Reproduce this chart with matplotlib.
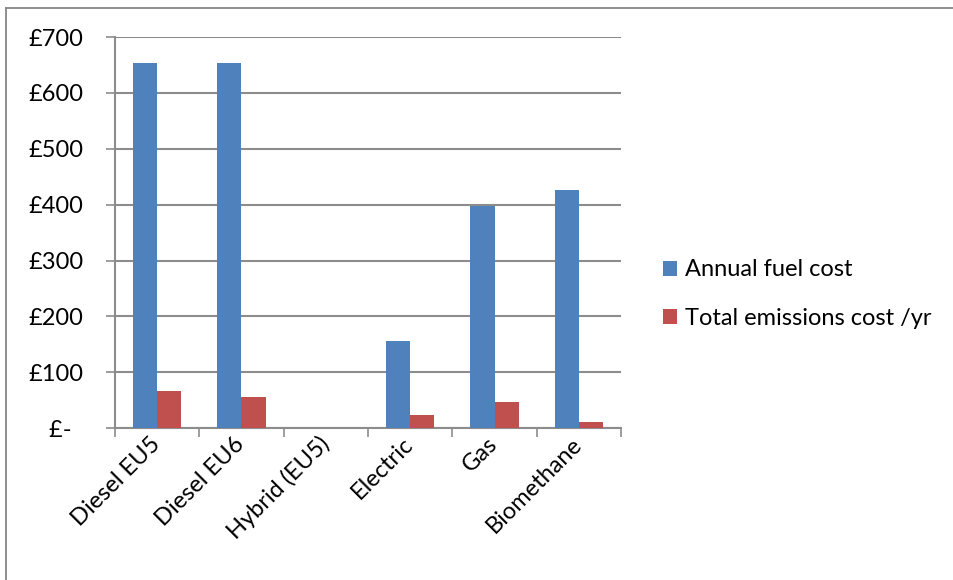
import matplotlib.pyplot as plt
import numpy as np
from matplotlib.lines import Line2D

plt.rcParams['font.family'] = ['Lato', 'DejaVu Sans']

# Annual costs per vehicle type
vehicles = ['Diesel EU5', 'Diesel EU6', 'Hybrid (EU5)', 'Electric', 'Gas', 'Biomethane']
fuel_cost = [653, 653, 0, 156, 397, 426]
emissions_cost = [66, 55, 0, 23, 47, 11]
y_ticks = [0, 100, 200, 300, 400, 500, 600, 700]
y_labels = ['£-  ', '£100', '£200', '£300', '£400', '£500', '£600', '£700']

blue = '#4F81BD'
red = '#C0504D'
grid_col = '#8C8C8C'
fs = 17

fig = plt.figure(figsize=(9.54, 5.8), dpi=100)
ax = fig.add_axes([0.1205, 0.262, 0.5305, 0.674])

x = np.arange(len(vehicles))
w = 0.285
ax.bar(x - w / 2, fuel_cost, width=w, color=blue, label='Annual fuel cost', zorder=3)
ax.bar(x + w / 2, emissions_cost, width=w, color=red, label='Total emissions cost /yr', zorder=3)

ax.set_xlim(-0.5, len(vehicles) - 0.5)
ax.set_ylim(0, 700)
ax.set_yticks(y_ticks)
ax.set_yticklabels(y_labels, fontsize=fs)
ax.tick_params(axis='y', length=6.5, width=1.2, color=grid_col, pad=16)
ax.yaxis.grid(True, color=grid_col, linewidth=1.5, zorder=0)

# category ticks sit on the boundaries between groups
ax.set_xticks(np.arange(len(vehicles) + 1) - 0.5)
ax.set_xticklabels([])
ax.set_xticks(x, minor=True)
ax.set_xticklabels(vehicles, minor=True, fontsize=fs, rotation=45, ha='right',
                   va='center', rotation_mode='anchor')
ax.tick_params(axis='x', which='major', length=6.5, width=1.2, color=grid_col)
ax.tick_params(axis='x', which='minor', length=0, pad=9)

for side in ['top', 'right']:
    ax.spines[side].set_visible(False)
for side in ['left', 'bottom']:
    ax.spines[side].set_color(grid_col)
    ax.spines[side].set_linewidth(1.5)

ax.legend(loc='center left', bbox_to_anchor=(1.083, 0.343), frameon=False,
          fontsize=fs, handlelength=0.6, handleheight=0.6, labelspacing=1.15,
          handletextpad=0.35, borderpad=0, borderaxespad=0)

# chart border (left and top edges fall inside the image)
fig.add_artist(Line2D([0.006, 0.006], [0, 0.987], transform=fig.transFigure,
                      color='#868686', linewidth=1.3))
fig.add_artist(Line2D([0.006, 1.0], [0.987, 0.987], transform=fig.transFigure,
                      color='#868686', linewidth=1.3))

fig.savefig('out.png', dpi=100)
